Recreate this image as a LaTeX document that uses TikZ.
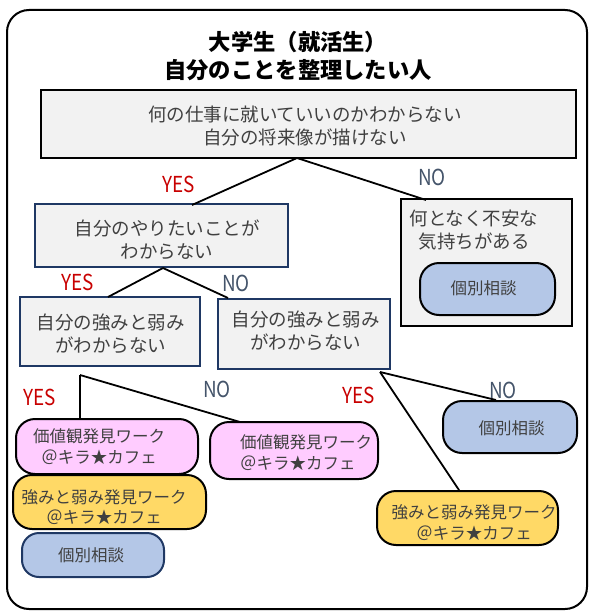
\documentclass[tikz,border=0pt]{standalone}
\usepackage{fontspec}
\setmainfont{Noto Sans CJK JP}
\definecolor{boxgray}{HTML}{F2F2F2}
\definecolor{navy}{HTML}{1F3864}
\definecolor{pinkf}{HTML}{FFCCFF}
\definecolor{yellowf}{HTML}{FFD966}
\definecolor{bluef}{HTML}{B4C7E7}
\definecolor{txt}{HTML}{404040}
\definecolor{yesred}{HTML}{C80000}
\definecolor{noblue}{HTML}{44546A}
\tikzset{
  qbox/.style={draw=black, line width=2.2pt, fill=boxgray, rectangle, inner sep=0pt},
  nbox/.style={qbox, draw=navy},
  rbox/.style={draw=black, line width=2pt, rectangle, rounded corners=19pt, inner sep=0pt},
  maintxt/.style={text=txt, align=center, inner sep=0pt, font=\fontsize{18.5}{23}\selectfont},
  smalltxt/.style={text=txt, align=center, inner sep=0pt, font=\fontsize{16.5}{20.5}\selectfont},
  yeslbl/.style={text=yesred, inner sep=0pt, font=\fontsize{22}{26}\selectfont, xscale=0.86, transform shape},
  nolbl/.style={text=noblue, inner sep=0pt, font=\fontsize{22}{26}\selectfont, xscale=0.86, transform shape},
  conn/.style={draw=black, line width=1.8pt},
}
\begin{document}
\begin{tikzpicture}[x=1pt,y=-1pt]
\useasboundingbox (0,0) rectangle (593,615);
% outer frame
\draw[line width=2pt, rounded corners=22pt] (7,10) rectangle (587,609);
% title
\node[inner sep=0pt, align=center, font=\bfseries\fontsize{22.3}{28}\selectfont] (title) at (298,56) {大学生（就活生）\\自分のことを整理したい人};
% boxes
\node[qbox, minimum width=535pt, minimum height=68pt] (b1) at (308.5,124) {};
\node[maintxt] (t1) at (305,126) {何の仕事に就いていいのかわからない\\自分の将来像が描けない};
\node[nbox, minimum width=253pt, minimum height=63pt] (b2) at (161.5,235.5) {};
\node[maintxt] (t2) at (167,240) {自分のやりたいことが\\わからない};
\node[qbox, minimum width=171pt, minimum height=127pt] (b3) at (486.5,262.5) {};
\node[maintxt] (t3) at (474,230.5) {何となく不安な\\気持ちがある};
\node[rbox, fill=bluef, minimum width=135pt, minimum height=52pt] (c1) at (487.5,289) {};
\node[smalltxt] (tc1) at (483.5,288) {個別相談};
\node[nbox, minimum width=180pt, minimum height=69pt] (b4) at (110,331.5) {};
\node[maintxt] (t4) at (110.5,334) {自分の強みと弱み\\がわからない};
\node[nbox, minimum width=172pt, minimum height=70pt] (b5) at (304,334) {};
\node[maintxt] (t5) at (305.5,331) {自分の強みと弱み\\がわからない};
% lower rounded boxes
\node[rbox, fill=pinkf, minimum width=182pt, minimum height=55pt] (p1) at (107,446.5) {};
\node[smalltxt] (tp1) at (99,446.5) {価値観発見ワーク\\＠キラ★カフェ};
\node[rbox, fill=pinkf, minimum width=168pt, minimum height=57pt] (p2) at (294,450.5) {};
\node[smalltxt, align=left, anchor=west] (tp2) at (240,452.5) {価値観発見ワーク\\＠キラ★カフェ};
\node[rbox, fill=yellowf, minimum width=193pt, minimum height=54pt] (y1) at (109.5,502) {};
\node[smalltxt] (ty1) at (104,507) {強みと弱み発見ワーク\\＠キラ★カフェ};
\node[rbox, draw=navy, fill=bluef, minimum width=142pt, minimum height=44pt, rounded corners=17pt] (c2) at (93,555) {};
\node[smalltxt] (tc2) at (91,555) {個別相談};
\node[rbox, fill=bluef, minimum width=134pt, minimum height=52pt] (c3) at (510,427) {};
\node[smalltxt] (tc3) at (511.5,428) {個別相談};
\node[rbox, fill=yellowf, minimum width=181pt, minimum height=54pt] (y2) at (467.5,518) {};
\node[smalltxt] (ty2) at (474,522.5) {強みと弱み発見ワーク\\＠キラ★カフェ};
% junctions
\coordinate (j1) at (297,158);
\coordinate (e1y) at (192,205);
\coordinate (e1n) at (426,200);
\coordinate (j2) at (163,268);
\coordinate (e2y) at (108,297);
\coordinate (e2n) at (228,298);
\coordinate (j4) at (80,375);
\coordinate (e4y) at (80,419);
\coordinate (e4n) at (240,422);
\coordinate (j5) at (380,372);
\coordinate (e5y) at (459,490);
\coordinate (e5n) at (496,400);
\draw[conn] (j1) -- (e1y);
\draw[conn] (j1) -- (e1n);
\draw[conn] (j2) -- (e2y);
\draw[conn] (j2) -- (e2n);
\draw[conn] (j4) -- (e4y);
\draw[conn] (j4) -- (e4n);
\draw[conn] (j5) -- (e5y);
\draw[conn] (j5) -- (e5n);
% labels
\node[yeslbl] (l1y) at (179,184) {YES};
\node[nolbl] (l1n) at (432,177) {NO};
\node[yeslbl] (l2y) at (78,282) {YES};
\node[nolbl] (l2n) at (236,283) {NO};
\node[yeslbl] (l4y) at (40,397) {YES};
\node[nolbl] (l4n) at (217,389) {NO};
\node[yeslbl] (l5y) at (359,395) {YES};
\node[nolbl] (l5n) at (503,390) {NO};
\end{tikzpicture}
\end{document}
